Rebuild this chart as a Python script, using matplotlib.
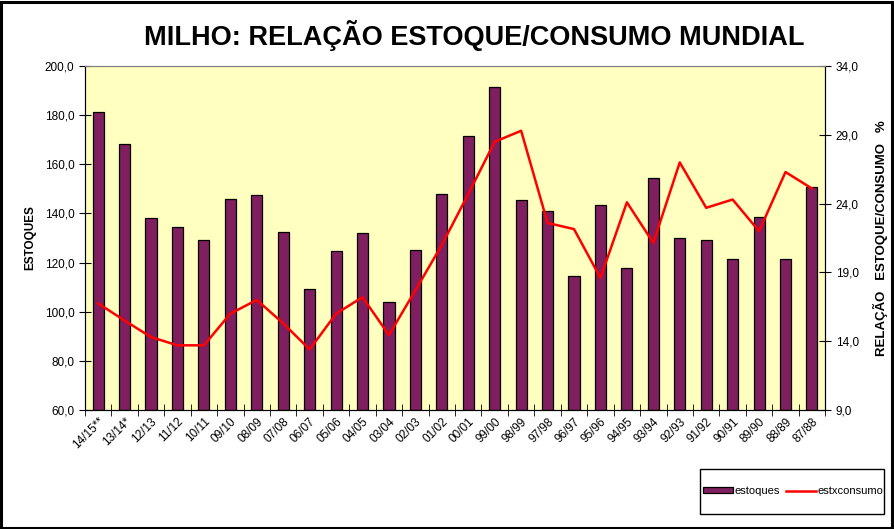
import numpy as np
import matplotlib
matplotlib.use('Agg')
import matplotlib.pyplot as plt
from matplotlib.patches import Rectangle

plt.rcParams['font.family'] = ['Liberation Sans', 'DejaVu Sans']

safras = ['14/15**', '13/14*', '12/13', '11/12', '10/11', '09/10', '08/09', '07/08',
          '06/07', '05/06', '04/05', '03/04', '02/03', '01/02', '00/01', '99/00',
          '98/99', '97/98', '96/97', '95/96', '94/95', '93/94', '92/93', '91/92',
          '90/91', '89/90', '88/89', '87/88']
estoques = [181.4, 168.1, 138.0, 134.3, 129.1, 145.7, 147.4, 132.3,
            109.1, 124.6, 131.9, 103.8, 125.0, 147.8, 171.4, 191.3,
            145.3, 140.9, 114.4, 143.3, 117.7, 154.3, 129.9, 129.1,
            121.3, 138.4, 121.3, 150.6]
estxconsumo = [16.75, 15.5, 14.3, 13.7, 13.7, 16.0, 17.0, 15.3,
               13.4, 16.0, 17.2, 14.45, 17.7, 21.0, 24.7, 28.5,
               29.3, 22.6, 22.15, 18.6, 24.1, 21.15, 27.0, 23.7,
               24.3, 22.0, 26.3, 25.1]

left_ticks = np.arange(60, 201, 20)
right_ticks = np.arange(9, 35, 5)


def fmt(v):
    return f'{v:.1f}'.replace('.', ',')


fig = plt.figure(figsize=(8.94, 5.29), dpi=100)
# moldura do grafico e da legenda
fig.patches.append(Rectangle((0.001, 0.002), 0.997, 0.995, transform=fig.transFigure,
                             fill=False, edgecolor='black', linewidth=2.2))
fig.patches.append(Rectangle((700 / 894, 1 - 514 / 529), 184 / 894, 45 / 529,
                             transform=fig.transFigure, fill=False,
                             edgecolor='black', linewidth=1.0))

ax = fig.add_axes([0.095, 0.225, 0.828, 0.65])
ax.set_facecolor('#ffffc0')
x = np.arange(len(safras))
ax.bar(x, [v - 60 for v in estoques], bottom=60, width=0.42, color='#7f1f5f',
       edgecolor='black', linewidth=0.9, label='estoques', zorder=2)
ax.set_xlim(-0.5, len(safras) - 0.5)
ax.set_ylim(60, 200)
ax.set_yticks(left_ticks)
ax.set_yticklabels([fmt(v) for v in left_ticks], fontsize=8.5)
ax.set_xticks(x)
ax.set_xticklabels(safras, rotation=45, ha='right', rotation_mode='anchor', fontsize=8.5)
ax.tick_params(axis='x', length=0, pad=4)
ax.set_xticks(np.arange(-0.5, len(safras)), minor=True)
ax.tick_params(axis='x', which='minor', direction='inout', length=8)
ax.tick_params(axis='y', direction='inout', length=8)
ax.spines['top'].set_color('#808080')
ax.set_ylabel('ESTOQUES', fontsize=8.5, fontweight='bold', labelpad=6)

ax2 = ax.twinx()
ax2.plot(x, estxconsumo, color='#ff0000', linewidth=1.8, label='estxconsumo', zorder=3)
ax2.set_ylim(9, 34)
ax2.set_yticks(right_ticks)
ax2.set_yticklabels([fmt(v) for v in right_ticks], fontsize=8.5)
ax2.tick_params(axis='y', direction='inout', length=8)
ax2.spines['top'].set_color('#808080')
ax2.set_ylabel('RELAÇÃO   ESTOQUE/CONSUMO   %', fontsize=9.5,
               fontweight='bold', labelpad=10)

fig.text(0.53, 0.933, 'MILHO: RELAÇÃO ESTOQUE/CONSUMO MUNDIAL', ha='center', va='center',
         fontsize=19.5, fontweight='bold')

h1, l1 = ax.get_legend_handles_labels()
h2, l2 = ax2.get_legend_handles_labels()
leg = fig.legend(h1 + h2, l1 + l2, loc='center', bbox_to_anchor=(793 / 894, 1 - 491 / 529),
                 ncol=2, fontsize=8, frameon=False,
                 handlelength=2.7, handleheight=0.45, columnspacing=0.5, handletextpad=0.15,
                 borderpad=0.2)

fig.savefig('out.png', dpi=100)
